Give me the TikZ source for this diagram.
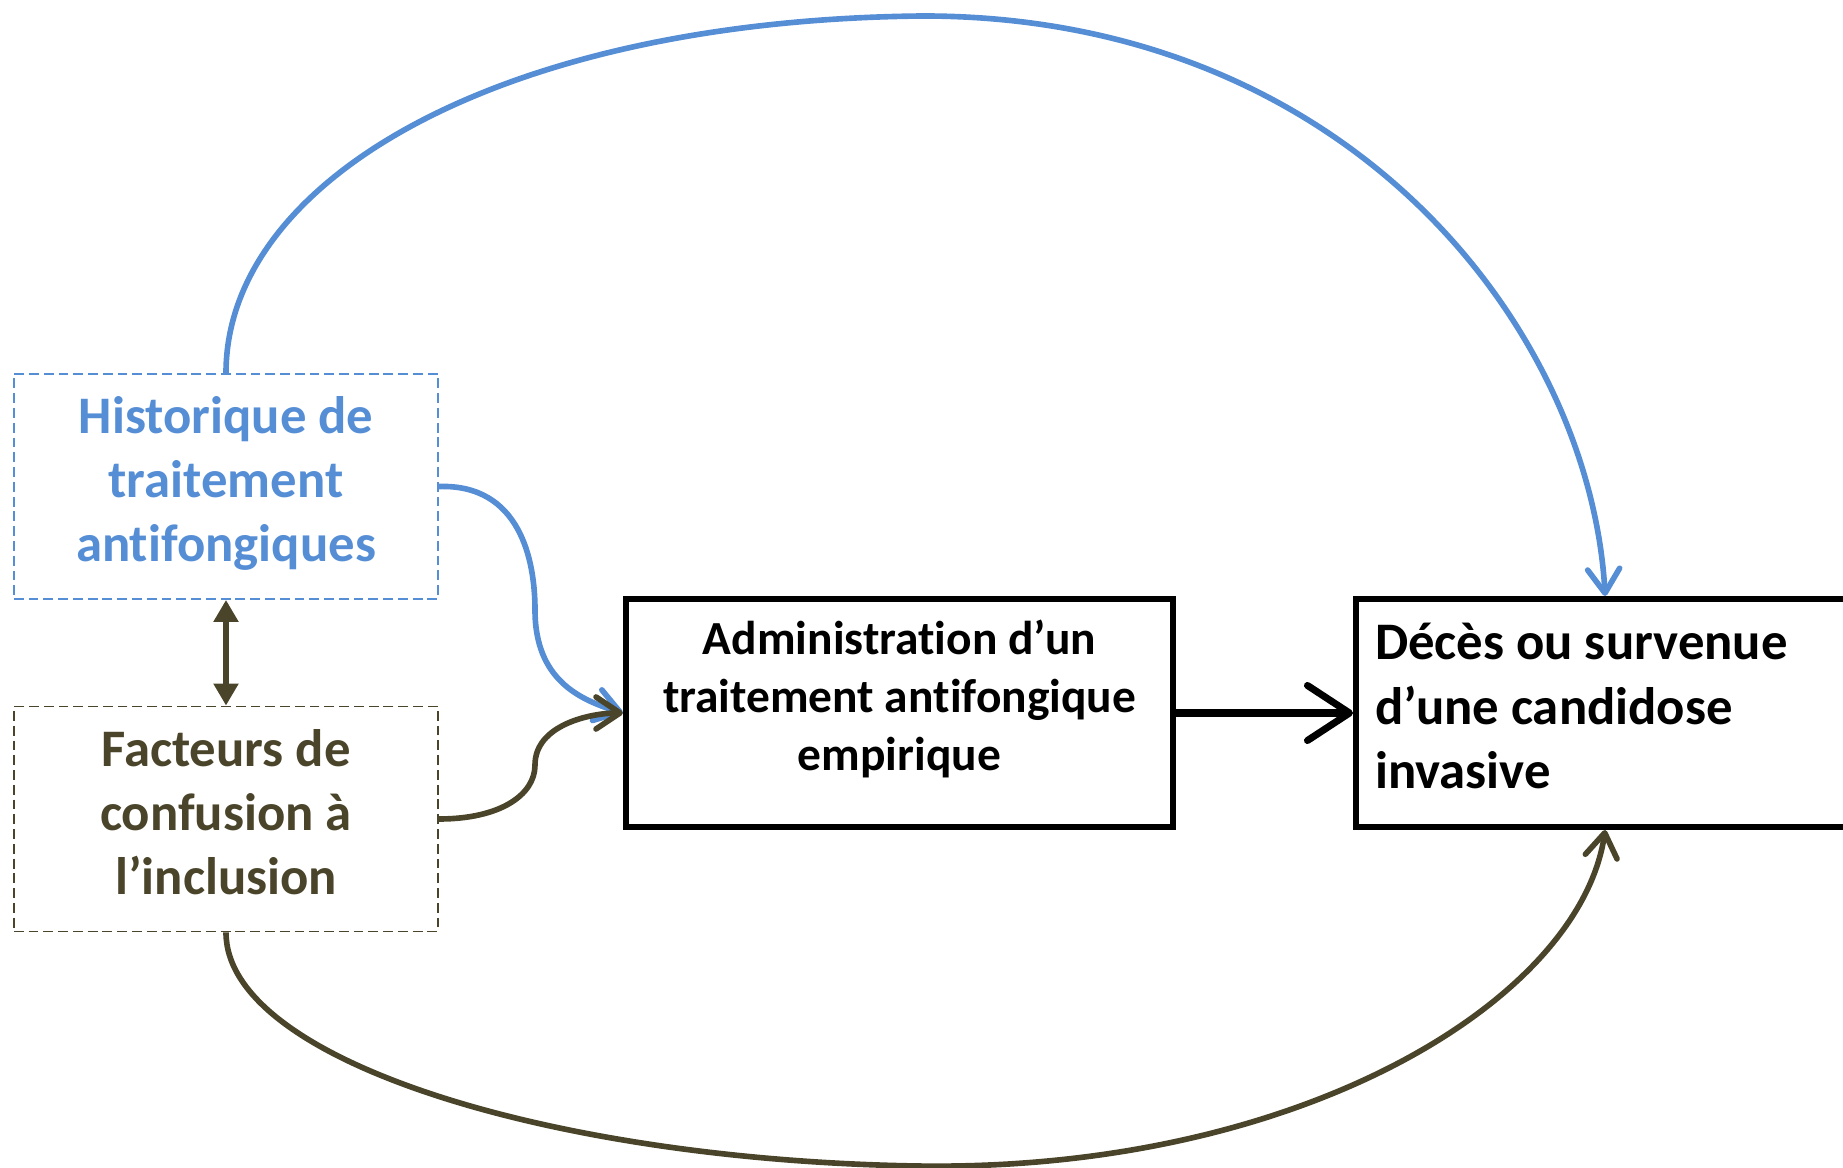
\documentclass[tikz,border=0pt]{standalone}
\usepackage{fontspec}
\setmainfont[Ligatures=NoCommon]{Carlito}
\usetikzlibrary{arrows.meta}
\definecolor{histblue}{HTML}{558ED5}
\definecolor{confolive}{HTML}{4A452A}

\begin{document}
\begin{tikzpicture}[x=0.01cm,y=-0.01cm]
\tikzstyle{every node}+=[inner sep=0pt]
\tikzstyle{dashbox}=[draw,dash pattern=on 2.8pt off 1.4pt,line width=0.5pt,minimum width=4.24cm,minimum height=2.25cm,align=center,font=\bfseries\fontsize{15}{18.2}\selectfont]
\tikzstyle{mainbox}=[draw=black,line width=1.7pt,minimum height=2.28cm,font=\bfseries]
\tikzstyle{barb}=[-{Straight Barb[length=0.24cm,width=0.32cm,round]},line width=1.6pt]
\useasboundingbox (0,0) rectangle (1843,1168);
\node [dashbox,draw=histblue,text=histblue,text depth=0.15cm] (hist) at (226,486.5) {Historique de\\traitement\\antifongiques};
\node [dashbox,draw=confolive,text=confolive,text depth=0.14cm] (conf) at (226,819) {Facteurs de\\confusion à\\l’inclusion};
\node [mainbox,minimum width=5.47cm,align=center,text depth=0.36cm,font=\bfseries\fontsize{13.5}{16.5}\selectfont] (admin) at (899.5,713) {Administration d’un\\traitement antifongique\\empirique};
\node [mainbox,anchor=west,text width=4.6cm,inner xsep=0.19cm,align=flush left,text depth=1.433cm,font=\bfseries\fontsize{15}{18.4}\selectfont] (deces) at (1353,713) {Décès ou survenue\\d’une candidose\\invasive};
\draw [confolive,line width=1.5pt,{Triangle[length=0.22cm,width=0.24cm]}-{Triangle[length=0.22cm,width=0.24cm]}] (hist.south) -- (conf.north);
\draw [black,line width=2pt,-{Straight Barb[length=0.42cm,width=0.55cm,round]}] (admin.east) -- (deces.west);
\draw [histblue,barb] (hist.north) .. controls (226,180) and (500,20) .. (923,16) .. controls (1350,16) and (1590,330) .. (deces.north);
\draw [confolive,barb] (conf.south) .. controls (226,1060) and (550,1160) .. (917,1166) .. controls (1300,1172) and (1580,1000) .. (deces.south);
\draw [histblue,barb] (hist.east) .. controls (520,484) and (535,560) .. (535,610) .. controls (535,680) and (580,700) .. (admin.west);
\draw [confolive,barb] (conf.east) .. controls (500,819) and (535,795) .. (535,765) .. controls (535,725) and (590,713) .. (admin.west);
\end{tikzpicture}
\end{document}
